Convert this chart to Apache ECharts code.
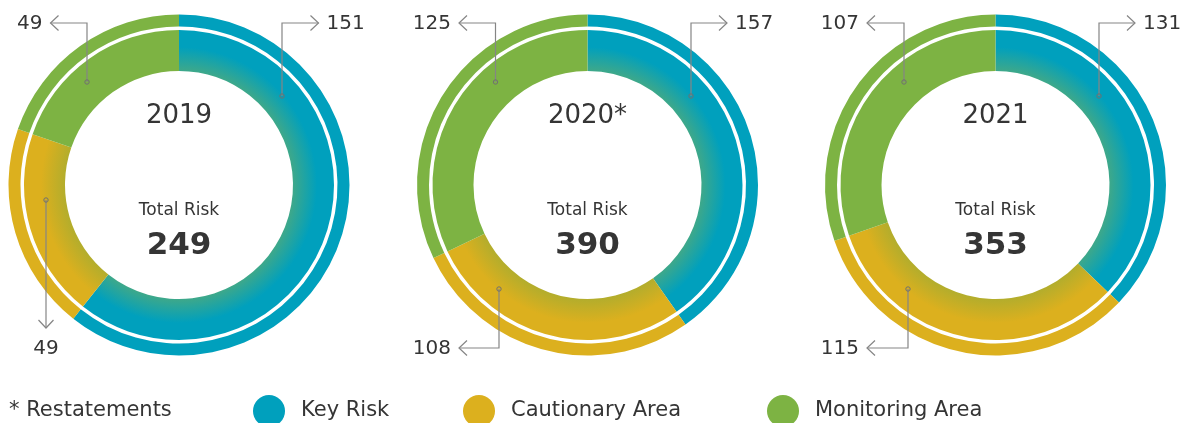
<!DOCTYPE html>
<html><head><meta charset="utf-8">
<script src="https://cdn.jsdelivr.net/npm/echarts@6/dist/echarts.min.js"></script>
<style>html,body{margin:0;padding:0;background:#fff}#c{width:1185px;height:423px}</style>
</head><body><div id="c"></div>
<script>
// ---- data ----
const years = ['2019', '2020*', '2021'];
const categories = ['Key Risk', 'Cautionary Area', 'Monitoring Area'];
const keyRisk = [151, 157, 131];
const cautionary = [49, 108, 115];
const monitoring = [49, 125, 107];
const totals = [249, 390, 353];
const footnote = '* Restatements';
const totalLabel = 'Total Risk';

// ---- styling / layout ----
const FONT = 'DejaVu Sans';
const TXT = '#353535';
const LINE = '#858585';
const baseColor = ['#00a0bd', '#dcb01e', '#7db343'];
const innerTint = ['#3ea88a', '#b3ad2c', '#7db343'];
const centers = [[179, 185], [587.5, 185], [995.5, 185]];
const R_IN = [114, 155], R_OUT = [158.5, 170.5];
const TOP_Y = 23, BOT_Y = 348;
// callout anchor offsets (relative to chart centre) per chart, per category
const callouts = [
  [{dx: 103, dy: -89, dir: 'right'}, {dx: -133, dy: 15, dir: 'down'}, {dx: -92, dy: -103, dir: 'left'}],
  [{dx: 103.5, dy: -89, dir: 'right'}, {dx: -88.5, dy: 104, dir: 'left', bottom: true}, {dx: -92, dy: -103, dir: 'left'}],
  [{dx: 103.5, dy: -89, dir: 'right'}, {dx: -87.5, dy: 104, dir: 'left', bottom: true}, {dx: -91.5, dy: -103, dir: 'left'}]
];
const legendLeft = [253, 463, 767];

const values = [keyRisk, cautionary, monitoring];

function grad(k, c) {
  return {
    type: 'radial', x: c[0], y: c[1], r: R_IN[1], global: true,
    colorStops: [
      {offset: 0, color: innerTint[k]},
      {offset: R_IN[0] / R_IN[1], color: innerTint[k]},
      {offset: 0.89, color: baseColor[k]},
      {offset: 1, color: baseColor[k]}
    ]
  };
}

const series = [];
years.forEach((y, i) => {
  const c = centers[i];
  const common = {
    type: 'pie', center: c, startAngle: 90, clockwise: true, silent: true,
    label: {show: false}, labelLine: {show: false}, animation: false,
    emphasis: {disabled: true}
  };
  series.push(Object.assign({}, common, {
    name: 'inner' + i, radius: R_IN,
    data: categories.map((n, k) => ({name: n, value: values[k][i], itemStyle: {color: grad(k, c)}}))
  }));
  series.push(Object.assign({}, common, {
    name: 'outer' + i, radius: R_OUT,
    data: categories.map((n, k) => ({name: n, value: values[k][i], itemStyle: {color: baseColor[k]}}))
  }));
});

const graphic = [];
years.forEach((y, i) => {
  const [cx, cy] = centers[i];
  graphic.push({type: 'text', x: cx, y: 116.5, style: {text: y, fill: TXT, font: '26px "' + FONT + '"', align: 'center', verticalAlign: 'middle'}});
  graphic.push({type: 'text', x: cx, y: 211, style: {text: totalLabel, fill: TXT, font: '17px "' + FONT + '"', align: 'center', verticalAlign: 'middle'}});
  graphic.push({type: 'text', x: cx, y: 245.5, style: {text: String(totals[i]), fill: TXT, font: 'bold 31px "' + FONT + '"', align: 'center', verticalAlign: 'middle'}});
  categories.forEach((n, k) => {
    const co = callouts[i][k];
    const px = cx + co.dx, py = cy + co.dy;
    const label = String(values[k][i]);
    let pts, head, tx, ty, align;
    if (co.dir === 'down') {
      const tip = 328;
      pts = [[px, py], [px, tip]];
      head = [[px - 7.5, tip - 8], [px, tip], [px + 7.5, tip - 8]];
      tx = px; ty = BOT_Y; align = 'center';
    } else {
      const ly = co.bottom ? BOT_Y : TOP_Y;
      const tipX = co.dir === 'right' ? cx + 139.5 : cx - 128.5;
      const s = co.dir === 'right' ? -1 : 1;
      pts = [[px, py], [px, ly], [tipX, ly]];
      head = [[tipX + s * 8, ly - 7.5], [tipX, ly], [tipX + s * 8, ly + 7.5]];
      tx = co.dir === 'right' ? tipX + 8 : tipX - 8; ty = ly;
      align = co.dir === 'right' ? 'left' : 'right';
    }
    graphic.push({type: 'polyline', shape: {points: pts}, style: {stroke: LINE, lineWidth: 1.2, fill: null}, z: 10});
    graphic.push({type: 'polyline', shape: {points: head}, style: {stroke: LINE, lineWidth: 1.2, fill: null}, z: 10});
    graphic.push({type: 'circle', shape: {cx: px, cy: py, r: 2.2}, style: {stroke: '#707070', lineWidth: 1, fill: 'rgba(0,0,0,0)'}, z: 11});
    graphic.push({type: 'text', x: tx, y: ty + 0.5, style: {text: label, fill: TXT, font: '20px "' + FONT + '"', align: align, verticalAlign: 'middle'}, z: 11});
  });
});
graphic.push({type: 'text', x: 9, y: 411, style: {text: footnote, fill: TXT, font: '21px "' + FONT + '"', align: 'left', verticalAlign: 'middle'}});

const legend = categories.map((n, k) => ({
  data: [{name: n, itemStyle: {color: baseColor[k]}}],
  left: legendLeft[k], top: 395, padding: 0,
  icon: 'circle', itemWidth: 32, itemHeight: 32, selectedMode: false,
  textStyle: {fontSize: 21, color: TXT, fontFamily: FONT, padding: [0, 0, 0, 11]}
}));

const chart = echarts.init(document.getElementById('c'), null, {renderer: 'canvas'});
chart.setOption({animation: false, backgroundColor: '#fff', series, graphic, legend});
</script></body></html>
